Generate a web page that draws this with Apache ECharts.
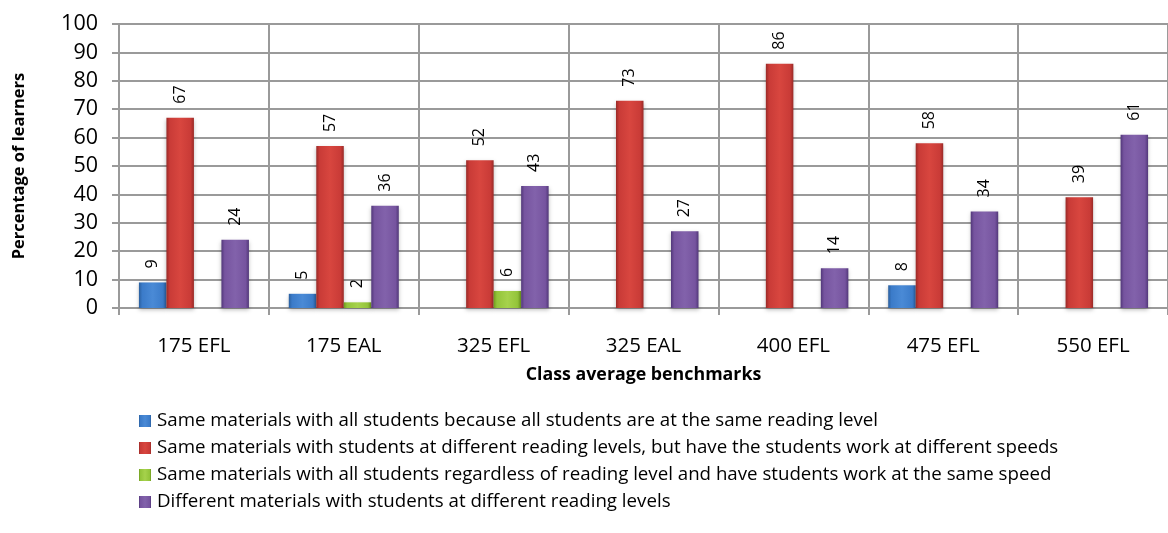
<!DOCTYPE html>
<html>
<head>
<meta charset="utf-8">
<script src="https://cdn.jsdelivr.net/npm/echarts@6/dist/echarts.min.js"></script>
<style>
  html, body { margin: 0; padding: 0; background: #fff; }
  #chart { width: 1168px; height: 533px; }
</style>
</head>
<body>
<div id="chart"></div>
<script>
// Class average benchmarks on the x axis
const categories = ['175 EFL', '175 EAL', '325 EFL', '325 EAL', '400 EFL', '475 EFL', '550 EFL'];

// Percentage of learners per grouping approach
const sameLevel      = [9, 5, 0, 0, 0, 8, 0];
const diffLevelSpeed = [67, 57, 52, 73, 86, 58, 39];
const sameSpeed      = [0, 2, 6, 0, 0, 0, 0];
const diffMaterials  = [24, 36, 43, 27, 14, 34, 61];

const seriesNames = [
  'Same materials with all students because all students are at the same reading level',
  'Same materials with students at different reading levels, but have the students work at different speeds',
  'Same materials with all students regardless of reading level and have students work at the same speed',
  'Different materials with students at different reading levels'
];

const yTicks = { min: 0, max: 100, interval: 10 };

const FONT = '"Open Sans", sans-serif';

// Horizontal gradient giving each bar a rounded, bevelled look
function bevel(dark, mid, light) {
  return new echarts.graphic.LinearGradient(0, 0, 1, 0, [
    { offset: 0, color: dark },
    { offset: 0.12, color: mid },
    { offset: 0.5, color: light },
    { offset: 0.88, color: mid },
    { offset: 1, color: dark }
  ]);
}

const palette = [
  bevel('#2a5f9e', '#3b7bc9', '#4a8ad6'),
  bevel('#9a2a27', '#c93b37', '#d8463f'),
  bevel('#6f9a1e', '#93c43a', '#a6d24c'),
  bevel('#52387a', '#76549f', '#8262ab')
];

function makeSeries(name, values, idx) {
  return {
    name: name,
    type: 'bar',
    data: values,
    barWidth: 27.5,
    barGap: '0%',
    itemStyle: {
      color: palette[idx],
      shadowColor: 'rgba(0,0,0,0.25)',
      shadowBlur: 4,
      shadowOffsetY: 2
    },
    label: {
      show: true,
      position: 'top',
      rotate: 90,
      align: 'left',
      verticalAlign: 'middle',
      distance: 14,
      fontFamily: FONT,
      fontSize: 16,
      color: '#000',
      formatter: p => (p.value === 0 ? '' : String(p.value))
    }
  };
}

const chart = echarts.init(document.getElementById('chart'), null, { renderer: 'canvas' });

chart.setOption({
  animation: false,
  backgroundColor: '#fff',
  textStyle: { fontFamily: FONT },
  grid: { left: 119, right: 0, top: 24, bottom: 225 },
  legend: {
    orient: 'vertical',
    left: 134,
    top: 406,
    itemWidth: 12,
    itemHeight: 12,
    itemGap: 7,
    icon: 'rect',
    textStyle: { fontFamily: FONT, fontSize: 18.7, color: '#000', lineHeight: 20, padding: [0, 0, 0, 1] },
    data: seriesNames
  },
  xAxis: {
    type: 'category',
    data: categories,
    name: 'Class average benchmarks',
    nameLocation: 'middle',
    nameGap: 58,
    nameTextStyle: { fontFamily: FONT, fontSize: 17.8, fontWeight: 'bold', color: '#000' },
    axisLine: { lineStyle: { color: '#9a9a9a', width: 2 } },
    axisTick: { show: true, length: 7, lineStyle: { color: '#9a9a9a', width: 2 } },
    axisLabel: { fontFamily: FONT, fontSize: 20.5, color: '#000', margin: 28 },
    splitLine: { show: true, lineStyle: { color: '#9a9a9a', width: 2 } }
  },
  yAxis: {
    type: 'value',
    min: yTicks.min,
    max: yTicks.max,
    interval: yTicks.interval,
    name: 'Percentage of learners',
    nameLocation: 'middle',
    nameGap: 91,
    nameTextStyle: { fontFamily: FONT, fontSize: 16.5, fontWeight: 'bold', color: '#000' },
    axisLine: { show: true, lineStyle: { color: '#9a9a9a', width: 2 } },
    axisTick: { show: true, length: 7, lineStyle: { color: '#9a9a9a', width: 2 } },
    axisLabel: { fontFamily: FONT, fontSize: 21.5, color: '#000', margin: 21 },
    splitLine: { show: true, lineStyle: { color: '#9a9a9a', width: 2 } }
  },
  series: [
    makeSeries(seriesNames[0], sameLevel, 0),
    makeSeries(seriesNames[1], diffLevelSpeed, 1),
    makeSeries(seriesNames[2], sameSpeed, 2),
    makeSeries(seriesNames[3], diffMaterials, 3)
  ]
});
</script>
</body>
</html>
